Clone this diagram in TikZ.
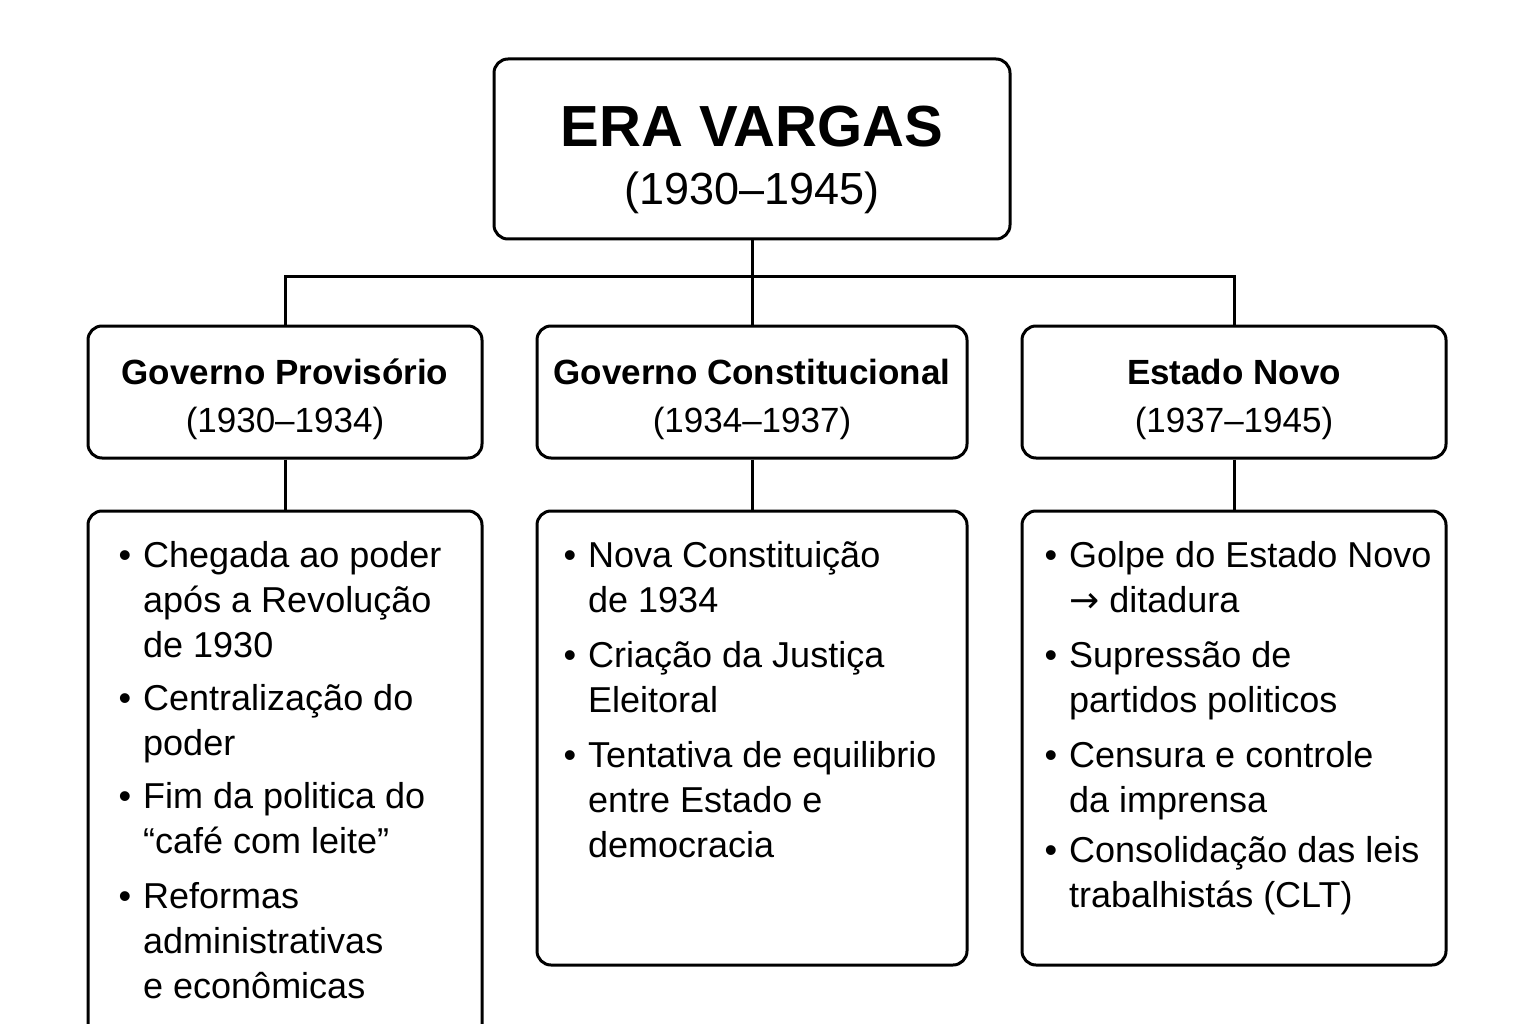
\documentclass[tikz,border=0pt]{standalone}
\usepackage{fontspec}
\setmainfont{Liberation Sans}
\newfontfamily\arrowfont{DejaVu Sans}
\usetikzlibrary{positioning}
\tikzset{
  box/.style={draw=black, line width=3pt, rounded corners=14pt, fill=white, align=center, inner sep=0pt},
  titlebox/.style={box, minimum width=516pt, minimum height=180pt, text height=112pt, text depth=0pt,
    font=\fontsize{45}{58}\selectfont},
  phasebox/.style={box, minimum height=132pt, text height=80pt, text depth=0pt,
    font=\fontsize{35}{48}\selectfont},
  listbox/.style={box},
  link/.style={line width=3pt, black},
  item/.style={anchor=base west, align=left, inner sep=0pt, font=\fontsize{36}{45}\selectfont},
  dot/.style={anchor=base, inner sep=0pt, font=\fontsize{36}{45}\selectfont},
}

\begin{document}
\begin{tikzpicture}[x=1pt, y=-1pt]
  \path[fill=white, use as bounding box] (0,0) rectangle (1536,1024);

  % top
  \node[titlebox] (era) at (752,149) {{\fontsize{58}{58}\selectfont\bfseries ERA VARGAS}\\(1930--1945)};

  % phases
  \node[phasebox, minimum width=394pt] (gp) at (285,392) {{\bfseries Governo Provisório}\\(1930--1934)};
  \node[phasebox, minimum width=430pt] (gc) at (752,392) {{\bfseries Governo Constitucional}\\(1934--1937)};
  \node[phasebox, minimum width=424pt] (en) at (1234,392) {{\bfseries Estado Novo}\\(1937--1945)};

  % content boxes
  \node[listbox, minimum width=394pt, minimum height=530pt] (gpl) at (285,776) {};
  \node[listbox, minimum width=430pt, minimum height=454pt] (gcl) at (752,738) {};
  \node[listbox, minimum width=424pt, minimum height=454pt] (enl) at (1234,738) {};

  \draw[link] (era.south) -- (gc.north);
  \draw[link] (gp.north) -- ++(0,-48) -| (en.north);
  \draw[link] (gp.south) -- (gpl.north);
  \draw[link] (gc.south) -- (gcl.north);
  \draw[link] (en.south) -- (enl.north);

  % Governo Provisorio (base = last line)
  \node[dot] (gpd1) at (125,567) {\textbullet};
  \node[item] (gp1) at (143,657) {Chegada ao poder\\após a Revolução\\de 1930};
  \node[dot] (gpd2) at (125,710) {\textbullet};
  \node[item] (gp2) at (143,755) {Centralização do\\poder};
  \node[dot] (gpd3) at (125,808) {\textbullet};
  \node[item] (gp3) at (143,853) {Fim da politica do\\“café com leite”};
  \node[dot] (gpd4) at (125,908) {\textbullet};
  \node[item] (gp4) at (143,998) {Reformas\\administrativas\\e econômicas};

  % Governo Constitucional
  \node[dot] (gcd1) at (570,567) {\textbullet};
  \node[item] (gc1) at (588,612) {Nova Constituição\\de 1934};
  \node[dot] (gcd2) at (570,667) {\textbullet};
  \node[item] (gc2) at (588,712) {Criação da Justiça\\Eleitoral};
  \node[dot] (gcd3) at (570,767) {\textbullet};
  \node[item] (gc3) at (588,857) {Tentativa de equilibrio\\entre Estado e\\democracia};

  % Estado Novo
  \node[dot] (end1) at (1051,567) {\textbullet};
  \node[item] (en1) at (1069,612) {Golpe do Estado Novo\\{\arrowfont →} ditadura};
  \node[dot] (end2) at (1051,667) {\textbullet};
  \node[item] (en2) at (1069,712) {Supressão de\\partidos politicos};
  \node[dot] (end3) at (1051,767) {\textbullet};
  \node[item] (en3) at (1069,812) {Censura e controle\\da imprensa};
  \node[dot] (end4) at (1051,862) {\textbullet};
  \node[item] (en4) at (1069,907) {Consolidação das leis\\trabalhistás (CLT)};
\end{tikzpicture}
\end{document}
